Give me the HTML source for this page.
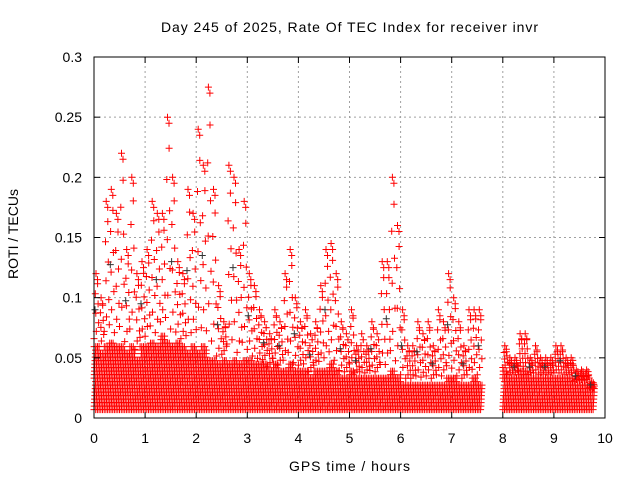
<!DOCTYPE html>
<html><head><meta charset="utf-8"><style>
body{margin:0;background:#fff;}
svg{display:block;font-family:"Liberation Sans",sans-serif;}
</style></head><body>
<svg id="chart" width="640" height="480">
<text x="349.5" y="32" font-size="14" text-anchor="middle" textLength="377" lengthAdjust="spacing">Day 245 of 2025, Rate Of TEC Index for receiver invr</text>
<text x="18" y="234" font-size="14" text-anchor="middle" transform="rotate(-90 18 234)">ROTI / TECUs</text>
<text x="349.5" y="471" font-size="14" text-anchor="middle" textLength="121" lengthAdjust="spacing">GPS time / hours</text>
<g id="grid"></g><g id="marks"></g><g id="axes"></g>
</svg>
<script>
const xTicks=[0,1,2,3,4,5,6,7,8,9,10];
const yTicks=[0,0.05,0.1,0.15,0.2,0.25,0.3];
const yTickLabels=["0","0.05","0.1","0.15","0.2","0.25","0.3"];
const binTimes=[0,0.1,0.2,0.3,0.4,0.5,0.6,0.7,0.8,0.9,1.0,1.1,1.2,1.3,1.4,1.5,1.6,1.7,1.8,1.9,2.0,2.1,2.2,2.3,2.4,2.5,2.6,2.7,2.8,2.9,3.0,3.1,3.2,3.3,3.4,3.5,3.6,3.7,3.8,3.9,4.0,4.1,4.2,4.3,4.4,4.5,4.6,4.7,4.8,4.9,5.0,5.1,5.2,5.3,5.4,5.5,5.6,5.7,5.8,5.9,6.0,6.1,6.2,6.3,6.4,6.5,6.6,6.7,6.8,6.9,7.0,7.1,7.2,7.3,7.4,7.5,8.0,8.1,8.2,8.3,8.4,8.5,8.6,8.7,8.8,8.9,9.0,9.1,9.2,9.3,9.4,9.5,9.6,9.7];
const binMax=[0.12,0.1,0.18,0.19,0.17,0.22,0.14,0.2,0.12,0.13,0.14,0.18,0.17,0.17,0.25,0.2,0.13,0.12,0.19,0.17,0.24,0.21,0.275,0.19,0.11,0.08,0.21,0.2,0.14,0.18,0.12,0.11,0.09,0.08,0.07,0.09,0.08,0.12,0.14,0.1,0.08,0.09,0.07,0.08,0.11,0.14,0.145,0.12,0.08,0.07,0.09,0.06,0.07,0.06,0.08,0.07,0.13,0.13,0.2,0.16,0.09,0.06,0.06,0.08,0.07,0.08,0.06,0.09,0.08,0.12,0.1,0.08,0.06,0.09,0.09,0.09,0.06,0.05,0.05,0.07,0.07,0.05,0.06,0.05,0.05,0.05,0.06,0.06,0.05,0.05,0.04,0.04,0.04,0.03];
const bandTop=[0.06,0.055,0.06,0.065,0.06,0.06,0.055,0.06,0.05,0.06,0.06,0.065,0.06,0.07,0.065,0.06,0.065,0.06,0.055,0.06,0.055,0.06,0.05,0.05,0.045,0.05,0.045,0.05,0.045,0.05,0.05,0.045,0.045,0.045,0.04,0.045,0.04,0.04,0.045,0.04,0.04,0.04,0.035,0.04,0.04,0.04,0.045,0.04,0.035,0.035,0.04,0.035,0.035,0.035,0.035,0.035,0.035,0.035,0.04,0.035,0.03,0.03,0.03,0.03,0.03,0.03,0.03,0.03,0.03,0.035,0.035,0.03,0.03,0.03,0.035,0.03,0.04,0.035,0.035,0.04,0.04,0.035,0.035,0.035,0.035,0.035,0.035,0.035,0.035,0.035,0.03,0.03,0.03,0.025];
const NS="http://www.w3.org/2000/svg";
const X0=94,X1=605,Y0=418,Y1=57;
const xs=t=>X0+t/10*(X1-X0);
const ys=v=>Y0-v/0.3*(Y0-Y1);
const grid=document.getElementById('grid'),axes=document.getElementById('axes'),marks=document.getElementById('marks');
function mk(tag,attrs,parent){const e=document.createElementNS(NS,tag);for(const k in attrs)e.setAttribute(k,attrs[k]);parent.appendChild(e);return e;}
xTicks.forEach((t,i)=>{
 if(i>0&&i<xTicks.length-1){const g=mk('line',{x1:xs(t),x2:xs(t),y1:Y0,y2:Y1,stroke:'#a0a0a0','stroke-dasharray':'2,3','stroke-width':1},grid);
 
 }
 const l=mk('text',{x:xs(t),y:Y0+25,'font-size':14,'text-anchor':'middle'},axes);l.textContent=t;
 
 
 mk('line',{x1:xs(t),x2:xs(t),y1:Y0,y2:Y0-6,stroke:'#000'},axes);
 mk('line',{x1:xs(t),x2:xs(t),y1:Y1,y2:Y1+6,stroke:'#000'},axes);
});
yTicks.forEach((v,i)=>{
 if(i>0&&i<yTicks.length-1){const g=mk('line',{x1:X0,x2:X1,y1:ys(v),y2:ys(v),stroke:'#a0a0a0','stroke-dasharray':'2,3','stroke-width':1},grid);
 
 }
 const l=mk('text',{x:X0-12,y:ys(v)+5,'font-size':14,'text-anchor':'end'},axes);l.textContent=yTickLabels[i];
 
 
 mk('line',{x1:X0,x2:X0+6,y1:ys(v),y2:ys(v),stroke:'#000'},axes);
 mk('line',{x1:X1,x2:X1-6,y1:ys(v),y2:ys(v),stroke:'#000'},axes);
});
const frame=mk('rect',{x:X0,y:Y1,width:X1-X0,height:Y0-Y1,fill:'none',stroke:'#000'},axes);


function cross(x,y){return `M${(x-3.5).toFixed(1)} ${y.toFixed(1)}h7M${x.toFixed(1)} ${(y-3.5).toFixed(1)}v7`;}
const bw=(X1-X0)/100;
binTimes.forEach((t,i)=>{
 let d='';const xb=xs(t);
 const top=ys(bandTop[i]), bot=ys(0.007);
 let r=0;
 for(let y=bot;y>=top;y-=3.5,r++){
   for(let c=0;c<3;c++){d+=cross(xb+((r*1.9+c*1.7)%bw),y);}
 }
 const mx=binMax[i];const b=bandTop[i];
 [0.1,0.2,0.32,0.45,0.58,0.72,0.86].forEach((f,k)=>{d+=cross(xb+((k*2.3)%bw),ys(b+(mx-b)*f));});
 d+=cross(xb+2,ys(mx));d+=cross(xb+3.5,ys(mx-0.005));
 const p=mk('path',{d:d,stroke:'#ff0000','stroke-width':1,fill:'none'},marks);
 
 
 if(i%3===0){const q=mk('path',{d:cross(xb+1,ys((b+mx)/2)),stroke:'#333','stroke-width':1},marks);
 
 }
});
</script>
</body></html>
